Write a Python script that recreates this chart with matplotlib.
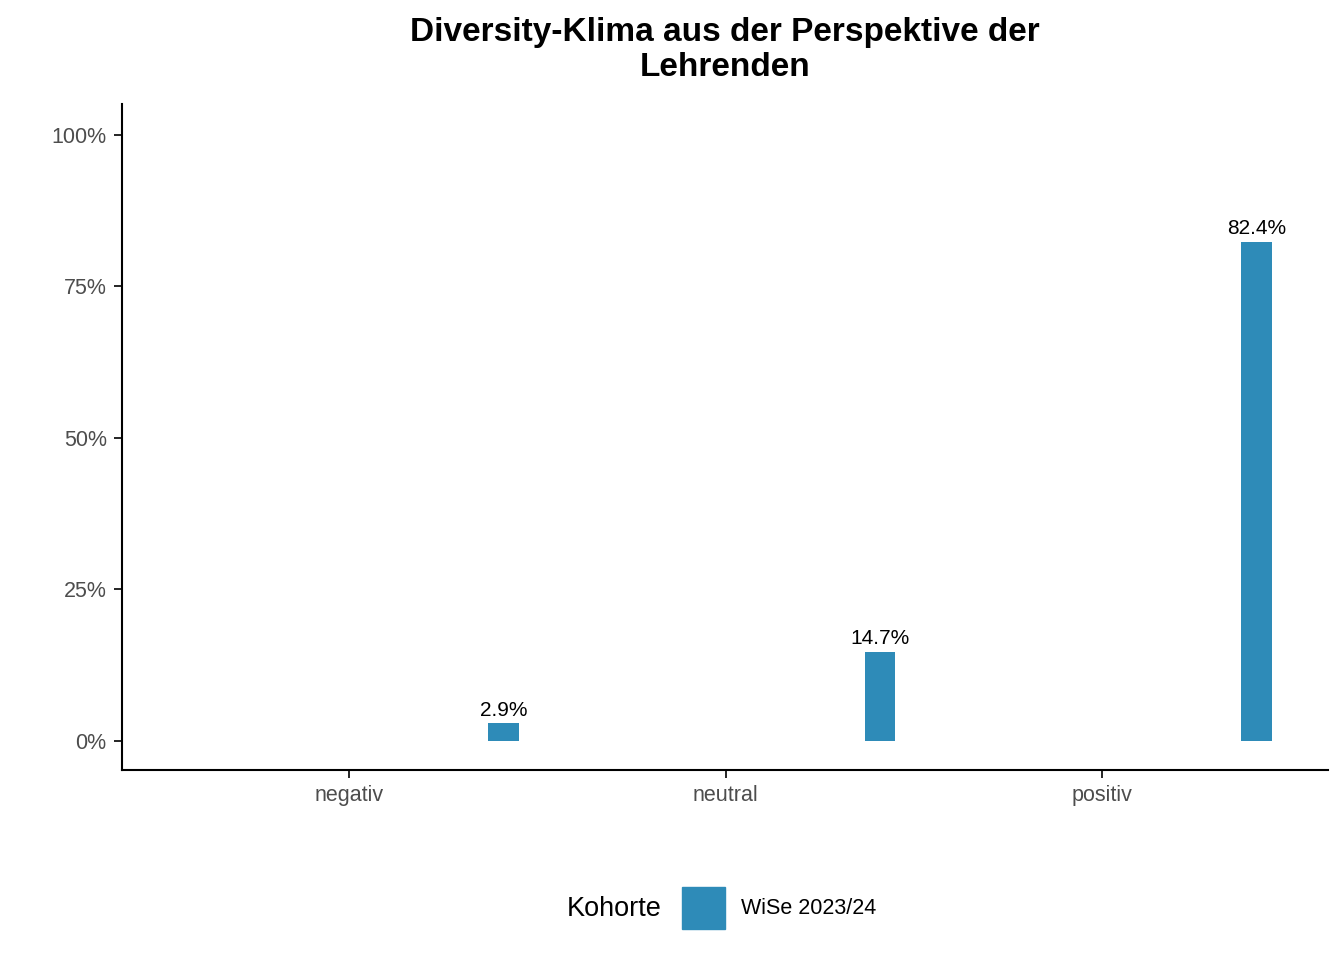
import matplotlib
matplotlib.use('Agg')
import matplotlib.pyplot as plt
import matplotlib.patches as mpatches

plt.rcParams['font.family'] = 'Liberation Sans'

categories = ['negativ', 'neutral', 'positiv']
values = [2.9, 14.7, 82.4]
cohort = 'WiSe 2023/24'
yticks = [0, 25, 50, 75, 100]
color = '#2E8BB8'

fig = plt.figure(figsize=(13.44, 9.6), dpi=100)
ax = fig.add_axes([122/1344, 1 - 770/960, (1328-122)/1344, (770-104)/960])

xpos = [1, 2, 3]
offset = 0.41
ax.bar([x + offset for x in xpos], values, width=0.082, color=color)
for x, v in zip(xpos, values):
    ax.text(x + offset, v + 0.6, f'{v}%', ha='center', va='bottom', fontsize=15, color='black')

ax.set_xlim(0.397, 3.600)
ax.set_ylim(-4.785, 105.1)
ax.set_xticks(xpos)
ax.set_xticklabels(categories, fontsize=15.5, color='#4d4d4d')
ax.set_yticks(yticks)
ax.set_yticklabels([f'{t}%' for t in yticks], fontsize=15.5, color='#4d4d4d')
ax.tick_params(length=6, width=1.2, pad=5)
for s in ['top', 'right']:
    ax.spines[s].set_visible(False)
for s in ['left', 'bottom']:
    ax.spines[s].set_linewidth(1.5)

fig.text(725/1344, 1 - 50/960, 'Diversity-Klima aus der Perspektive der\nLehrenden',
         ha='center', va='center', fontsize=24, fontweight='bold', linespacing=1.15)

# legend
fig.text(614/1344, 1 - 909/960, 'Kohorte', ha='center', va='center', fontsize=19.5)
fig.patches.append(mpatches.Rectangle((682/1344, 1 - 929/960), 43/1344, 42/960,
                                      transform=fig.transFigure, color=color))
fig.text(741/1344, 1 - 909/960, cohort, ha='left', va='center', fontsize=15.5)

fig.savefig('out.png', dpi=100)
